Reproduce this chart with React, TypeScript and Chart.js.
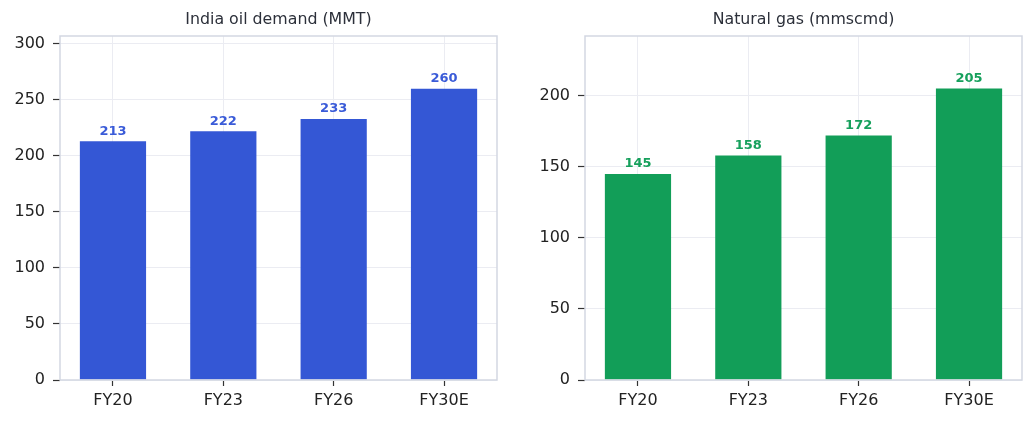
import React, { useEffect, useRef } from "react";
import { Chart, registerables } from "chart.js";

Chart.register(...registerables);

const categories = ["FY20", "FY23", "FY26", "FY30E"];
const oilValues = [213, 222, 233, 260];
const gasValues = [145, 158, 172, 205];
const oilTicks = [0, 50, 100, 150, 200, 250, 300];
const gasTicks = [0, 50, 100, 150, 200];
const oilTitle = "India oil demand (MMT)";
const gasTitle = "Natural gas (mmscmd)";
const oilMax = 307;
const gasMax = 242;

const FONT = "DejaVu Sans";
const GRID = "#ebecf2";
const FRAME = "#d3d7e2";
const TICK = "#333333";

type PanelProps = {
  title: string;
  values: number[];
  ticks: number[];
  yMax: number;
  color: string;
  labelColor: string;
  yAxisWidth: number;
  rightPad: number;
  width: number;
  left: number;
};

function Panel(p: PanelProps) {
  const ref = useRef<HTMLCanvasElement | null>(null);
  useEffect(() => {
    if (!ref.current) return;
    const labelPlugin = {
      id: "valueLabels",
      afterDatasetsDraw(chart: any) {
        const ctx = chart.ctx;
        const meta = chart.getDatasetMeta(0);
        ctx.save();
        ctx.font = `bold 13px "${FONT}"`;
        ctx.fillStyle = p.labelColor;
        ctx.textAlign = "center";
        ctx.textBaseline = "alphabetic";
        meta.data.forEach((bar: any, i: number) => {
          ctx.fillText(String(p.values[i]), bar.x, bar.y - 6.5);
        });
        const a = chart.chartArea;
        ctx.strokeStyle = FRAME;
        ctx.lineWidth = 1.5;
        ctx.strokeRect(a.left, a.top, a.right - a.left, a.bottom - a.top);
        ctx.restore();
      },
    };
    const chart = new Chart(ref.current, {
      type: "bar",
      data: {
        datasets: [
          {
            data: p.values.map((v, i) => ({ x: i, y: v })) as any,
            backgroundColor: p.color,
            borderWidth: 0,
            barPercentage: 0.6,
            categoryPercentage: 1,
          },
        ],
      },
      options: {
        responsive: false,
        animation: false,
        devicePixelRatio: 1,
        layout: { padding: { left: 0, right: p.rightPad, top: 0, bottom: 0 } },
        plugins: {
          legend: { display: false },
          tooltip: { enabled: false },
          title: {
            display: true,
            text: p.title,
            fullSize: false,
            color: "#2c303a",
            font: { family: FONT, size: 15.8, weight: "normal" as any, lineHeight: 1.2 },
            padding: { top: 10, bottom: 7.04 },
          },
        },
        scales: {
          x: {
            type: "linear",
            offset: false,
            min: -0.48,
            max: categories.length - 1 + 0.48,
            afterBuildTicks: (s: any) => {
              s.ticks = categories.map((_, i) => ({ value: i }));
            },
            afterFit: (s: any) => {
              s.height = 43;
            },
            grid: {
              offset: false,
              color: GRID,
              tickColor: TICK,
              tickLength: 6,
              tickWidth: 1.2,
              lineWidth: 1,
            },
            border: { display: false },
            ticks: {
              autoSkip: false,
              maxRotation: 0,
              padding: 5,
              color: "#222222",
              font: { family: FONT, size: 16 },
              callback: (v: any) => categories[Math.round(Number(v))] ?? "",
            },
          },
          y: {
            min: 0,
            max: p.yMax,
            afterBuildTicks: (s: any) => {
              s.ticks = p.ticks.map((v) => ({ value: v }));
            },
            afterFit: (s: any) => {
              s.width = p.yAxisWidth;
            },
            grid: {
              color: GRID,
              tickColor: TICK,
              tickLength: 7,
              tickWidth: 1.2,
              lineWidth: 1,
            },
            border: { display: false },
            ticks: {
              padding: 8,
              color: "#222222",
              font: { family: FONT, size: 16 },
            },
          },
        },
      },
      plugins: [labelPlugin],
    } as any);
    return () => chart.destroy();
  }, []);
  return (
    <div style={{ position: "absolute", left: p.left, top: 0, width: p.width, height: 423 }}>
      <canvas ref={ref} width={p.width} height={423} style={{ display: "block" }} />
    </div>
  );
}

export default function App() {
  return (
    <div
      style={{
        position: "absolute",
        left: 0,
        top: 0,
        width: 1035,
        height: 423,
        background: "#ffffff",
        overflow: "hidden",
      }}
    >
      <Panel
        title={oilTitle}
        values={oilValues}
        ticks={oilTicks}
        yMax={oilMax}
        color="#3457d5"
        labelColor="#3a5bd8"
        yAxisWidth={60}
        rightPad={23}
        width={520}
        left={0}
      />
      <Panel
        title={gasTitle}
        values={gasValues}
        ticks={gasTicks}
        yMax={gasMax}
        color="#129e58"
        labelColor="#16a05c"
        yAxisWidth={65}
        rightPad={13}
        width={515}
        left={520}
      />
    </div>
  );
}
